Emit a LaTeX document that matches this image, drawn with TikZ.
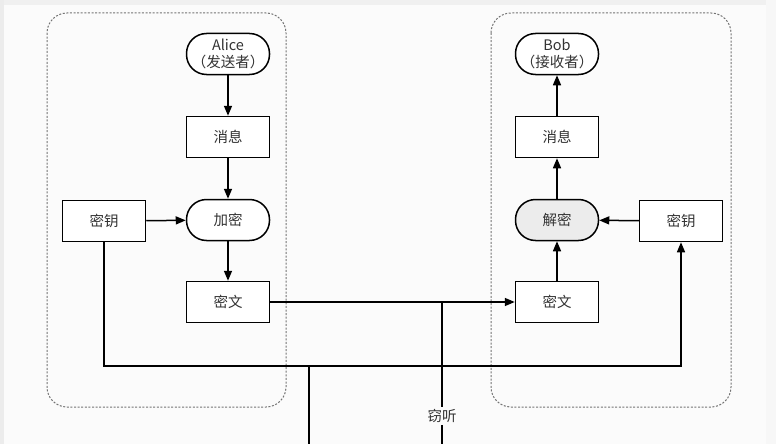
\documentclass[tikz,border=0pt]{standalone}
\usepackage{fontspec}
\setmainfont{Noto Sans CJK SC}
\usetikzlibrary{arrows.meta,positioning}

\begin{document}
\begin{tikzpicture}[x=1pt, y=-1pt, every node/.style={font=\fontsize{14.5}{17.5}\selectfont, text=black!80},
    box/.style={draw, line width=1.5pt, fill=white, minimum width=83pt, minimum height=41pt, align=center, inner sep=2pt},
    pill/.style={box, rounded corners=20pt},
    arr/.style={line width=1.5pt, -{Triangle[length=10pt,width=8pt]}},
    tap/.style={line width=2.8pt},
    zone/.style={draw=black!55, line width=1pt, dash pattern=on 2pt off 1.6pt, rounded corners=20pt}]
    \useasboundingbox (0,0) rectangle (776,444);
    \fill[black!1.5] (0,0) rectangle (776,444);
    \fill[gray!12] (0,0) rectangle (776,5);
    \fill[gray!15] (0,0) rectangle (4,444);
    \fill[gray!6] (766,0) rectangle (776,444);

    % sender and receiver areas
    \draw[zone] (47,13) rectangle (286,407);
    \draw[zone] (491,13) rectangle (731,407);

    % Alice
    \node[pill] (alice) at (228,54) {Alice\\（发送者）};
    \node[box] (msgA) at (228,137) {消息};
    \node[pill] (enc) at (228,220) {加密};
    \node[box] (keyA) at (104,221) {密钥};
    \node[box] (ctA) at (228,302) {密文};

    % Bob
    \node[pill] (bob) at (557,54) {Bob\\（接收者）};
    \node[box] (msgB) at (557,137) {消息};
    \node[pill, fill=gray!15] (dec) at (557,220) {解密};
    \node[box] (keyB) at (681,221) {密钥};
    \node[box] (ctB) at (557,302) {密文};

    \node[inner sep=2pt] (spy) at (442,416) {窃听};
    \coordinate (bottom) at (0,444);
    \coordinate (tap2) at (309,444);

    \draw[arr] (alice) -- (msgA);
    \draw[arr] (msgA) -- (enc);
    \draw[arr] (keyA) -- (enc);
    \draw[arr] (enc) -- (ctA);
    \draw[arr] (ctA) -- (ctB);
    \draw[arr] (ctB) -- (dec);
    \draw[arr] (keyB) -- (dec);
    \draw[arr] (dec) -- (msgB);
    \draw[arr] (msgB) -- (bob);
    \draw[arr] (keyA.south) -- ++(0,123.5) coordinate (keyline) -| (keyB.south);

    % eavesdropping
    \draw[tap] (ctA.east -| spy) -- (spy.north);
    \draw[tap] (spy.south) -- (spy |- bottom);
    \draw[tap] (tap2 |- keyline) -- (tap2);
\end{tikzpicture}
\end{document}
